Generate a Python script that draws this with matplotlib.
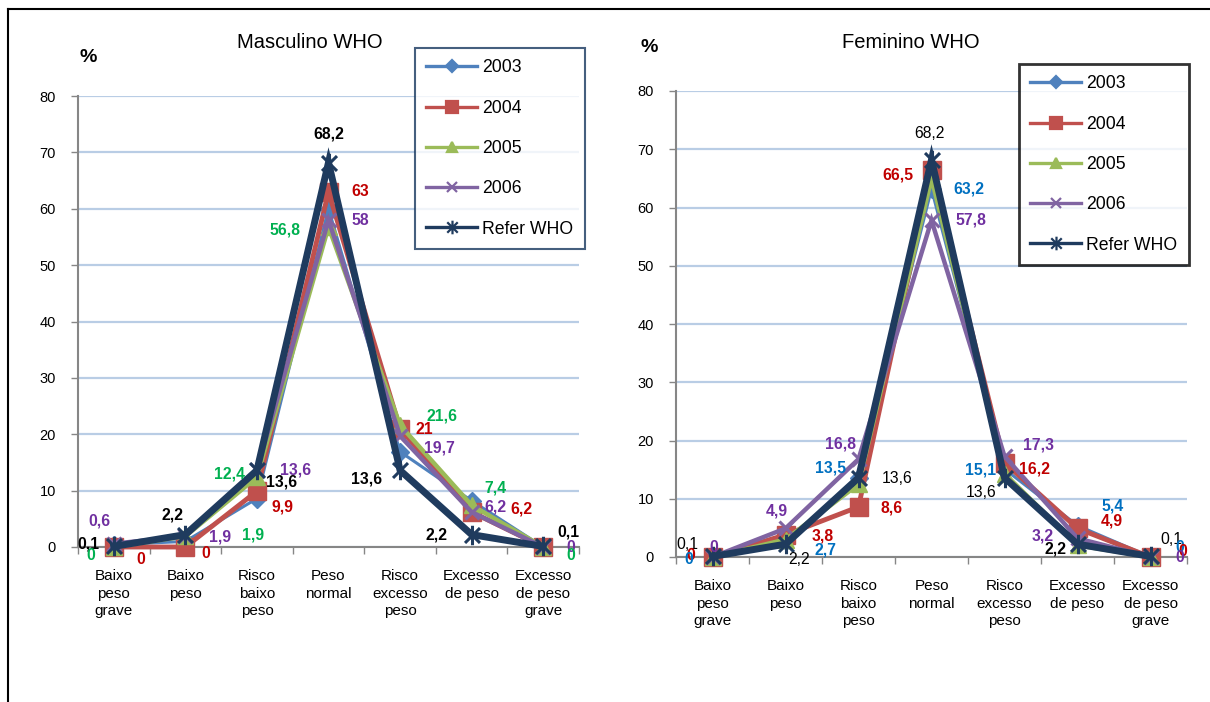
import matplotlib
matplotlib.use("Agg")
import matplotlib.pyplot as plt
from matplotlib.lines import Line2D
from matplotlib.path import Path
from matplotlib.markers import MarkerStyle

plt.rcParams['font.family'] = ['Liberation Sans', 'DejaVu Sans']

categories = ["Baixo\npeso\ngrave", "Baixo\npeso", "Risco\nbaixo\npeso", "Peso\nnormal",
              "Risco\nexcesso\npeso", "Excesso\nde peso", "Excesso\nde peso\ngrave"]
series_names = ["2003", "2004", "2005", "2006", "Refer WHO"]

masc_2003 = [0.4, 1.0, 8.6, 60.0, 16.9, 8.2, 0]
masc_2004 = [0, 0, 9.9, 63, 21, 6.2, 0]
masc_2005 = [0, 1.9, 12.4, 56.8, 21.6, 7.4, 0]
masc_2006 = [0.6, 1.9, 13.6, 58, 19.7, 6.2, 0]
masc_who = [0.1, 2.2, 13.6, 68.2, 13.6, 2.2, 0.1]

fem_2003 = [0, 2.7, 13.5, 63.2, 15.1, 5.4, 0]
fem_2004 = [0, 3.8, 8.6, 66.5, 16.2, 4.9, 0]
fem_2005 = [0, 3.0, 12.5, 65.0, 14.3, 2.0, 0]
fem_2006 = [0, 4.9, 16.8, 57.8, 17.3, 3.2, 0]
fem_who = [0.1, 2.2, 13.6, 68.2, 13.6, 2.2, 0.1]

line_colors = ["#4f81bd", "#c0504d", "#9bbb59", "#8064a2", "#1f3b5e"]
label_colors = ["#0070c0", "#c00000", "#00b050", "#7030a0", "#000000"]

# x with a vertical stroke, as used for the reference series
star_path = Path([(-1, -1), (1, 1), (-1, 1), (1, -1), (0, -1.3), (0, 1.3)],
                 [Path.MOVETO, Path.LINETO, Path.MOVETO, Path.LINETO, Path.MOVETO, Path.LINETO])
markers = ["D", "s", "^", "x", MarkerStyle(star_path)]
msizes = [9, 13, 11, 10, 14]
lwidths = [2.2, 3.5, 3.2, 3.2, 5.0]

# (series index, category index, text, dx px, dy px, bold)
masc_labels = [
    (3, 0, "0,6", -14, 23, True), (4, 0, "0,1", -25, 2, True), (2, 0, "0", -23, -8, True),
    (1, 0, "0", 27, -12, True),
    (4, 1, "2,2", -13, 20, True), (1, 1, "0", 20, -7, True), (3, 1, "1,9", 35, -1, True),
    (2, 1, "1,9", 68, 1, True),
    (2, 2, "12,4", -27, 3, True), (3, 2, "13,6", 39, 0, True), (4, 2, "13,6", 25, -12, True),
    (1, 2, "9,9", 26, -16, True),
    (4, 3, "68,2", 0, 29, True), (1, 3, "63", 32, 0, True), (3, 3, "58", 32, 0, True),
    (2, 3, "56,8", -44, -3, True),
    (2, 4, "21,6", 42, 9, True), (1, 4, "21", 24, -1, True), (3, 4, "19,7", 39, -12, True),
    (4, 4, "13,6", -34, -9, True),
    (2, 5, "7,4", 24, 17, True), (3, 5, "6,2", 24, 5, True), (1, 5, "6,2", 50, 3, True),
    (4, 5, "2,2", -35, 0, True),
    (4, 6, "0,1", 25, 14, True), (3, 6, "0", 28, 0, True), (2, 6, "0", 28, -8, True),
]
fem_labels = [
    (4, 0, "0,1", -25, 12, False), (1, 0, "0", -22, 2, True), (0, 0, "0", -24, -3, True),
    (3, 0, "0", 1, 9, True),
    (3, 1, "4,9", -9, 17, True), (1, 1, "3,8", 37, -1, True), (0, 1, "2,7", 40, -9, True),
    (4, 1, "2,2", 14, -15, False),
    (3, 2, "16,8", -18, 15, True), (0, 2, "13,5", -28, 10, True), (4, 2, "13,6", 39, -1, False),
    (1, 2, "8,6", 33, -1, True),
    (4, 3, "68,2", -2, 26, False), (1, 3, "66,5", -34, -5, True), (0, 3, "63,2", 37, 0, True),
    (3, 3, "57,8", 39, 0, True),
    (3, 4, "17,3", 34, 11, True), (1, 4, "16,2", 30, -6, True), (0, 4, "15,1", -24, -1, True),
    (4, 4, "13,6", -23, -15, False),
    (0, 5, "5,4", 35, 20, True), (1, 5, "4,9", 34, 7, True), (3, 5, "3,2", -35, 2, True),
    (4, 5, "2,2", -22, -5, True),
    (4, 6, "0,1", 21, 17, False), (0, 6, "0", 29, 9, True), (1, 6, "0", 32, 6, True),
    (3, 6, "0", 29, 0, True),
]

fig = plt.figure(figsize=(12.1, 7.02), dpi=100)
W, H = 1210, 702


def draw_panel(rect, data, labels, title, title_xy, pct_xy, leg_xy, leg_edge, leg_lw):
    x0, x1, ytop, ybot = rect
    ax = fig.add_axes([x0 / W, 1 - ybot / H, (x1 - x0) / W, (ybot - ytop) / H])
    xs = list(range(len(categories)))
    for i, vals in enumerate(data):
        ax.plot(xs, vals, color=line_colors[i], lw=lwidths[i], marker=markers[i],
                ms=msizes[i], mew=2.2 if i >= 3 else 1.0, mec=line_colors[i],
                mfc=line_colors[i], clip_on=False, zorder=3 + i, solid_joinstyle="miter")
    for si, ci, txt, dx, dy, bold in labels:
        ax.annotate(txt, (ci, data[si][ci]), xytext=(dx, dy), textcoords="offset pixels",
                    ha="center", va="center", fontsize=11.3,
                    fontweight="bold" if bold else "normal", color=label_colors[si],
                    zorder=20, annotation_clip=False)
    ax.set_xlim(-0.5, len(categories) - 0.5)
    ax.set_ylim(0, 80)
    ax.set_yticks(range(0, 81, 10))
    ax.set_xticks(xs)
    ax.set_xticklabels(categories, fontsize=11, linespacing=1.32)
    ax.set_xticks([k - 0.5 for k in range(len(categories) + 1)], minor=True)
    ax.tick_params(axis="x", which="major", length=0, pad=16)
    ax.tick_params(axis="x", which="minor", length=5, color="#868686", width=1)
    ax.tick_params(axis="y", length=5, color="#868686", width=1, labelsize=10.5, pad=11)
    ax.grid(axis="y", color="#b9cde5", lw=1.6, zorder=0)
    ax.set_axisbelow(True)
    for s in ("top", "right"):
        ax.spines[s].set_visible(False)
    for s in ("left", "bottom"):
        ax.spines[s].set_color("#868686")
        ax.spines[s].set_linewidth(1.5)
    fig.text(title_xy[0] / W, 1 - title_xy[1] / H, title, ha="center", va="center", fontsize=14.5)
    fig.text(pct_xy[0] / W, 1 - pct_xy[1] / H, "%", ha="center", va="center", fontsize=14,
             fontweight="bold")
    handles = [Line2D([], [], color=line_colors[i], lw=2.4, marker=markers[i],
                      ms=msizes[i] * 0.7, mew=1.6, mec=line_colors[i], mfc=line_colors[i])
               for i in range(len(series_names))]
    leg = ax.legend(handles, series_names, loc="upper left",
                    bbox_to_anchor=(leg_xy[0] / W, 1 - leg_xy[1] / H),
                    bbox_transform=fig.transFigure, fontsize=12.7, frameon=True,
                    fancybox=False, edgecolor=leg_edge, labelspacing=1.32,
                    handlelength=2.85, handletextpad=0.3, borderpad=0.65, borderaxespad=0)
    leg.get_frame().set_linewidth(leg_lw)
    leg.set_zorder(30)
    return ax


draw_panel((78, 579, 96, 547), [masc_2003, masc_2004, masc_2005, masc_2006, masc_who],
           masc_labels, "Masculino WHO", (310, 43), (88, 57), (415, 48), "#17375e", 1.5)
draw_panel((676, 1187, 91, 557), [fem_2003, fem_2004, fem_2005, fem_2006, fem_who],
           fem_labels, "Feminino WHO", (911, 42), (649, 47), (1019, 64), "#000000", 2.0)

# outer frame lines
fig.add_artist(Line2D([8 / W, 1], [1 - 9 / H, 1 - 9 / H], color="black", lw=1.5,
                      transform=fig.transFigure))
fig.add_artist(Line2D([8 / W, 8 / W], [0, 1 - 9 / H], color="black", lw=1.5,
                      transform=fig.transFigure))

fig.savefig("out.png", dpi=100)
